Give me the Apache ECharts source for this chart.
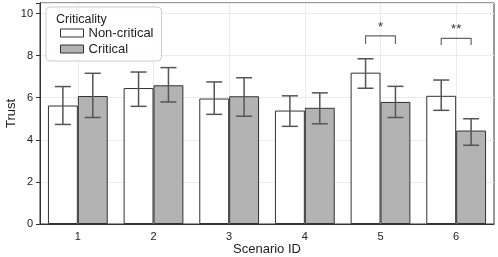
<!DOCTYPE html>
<html><head><meta charset="utf-8">
<script src="https://cdn.jsdelivr.net/npm/echarts@6/dist/echarts.min.js"></script>
<style>html,body{margin:0;padding:0;background:#fff}#c{width:498px;height:257px}</style>
</head><body><div id="c"></div>
<script>
var categories = ['1', '2', '3', '4', '5', '6'];
var nonCritical = [5.63, 6.46, 5.96, 5.39, 7.19, 6.09];
var ncLow = [4.73, 5.59, 5.21, 4.64, 6.45, 5.40];
var ncHigh = [6.53, 7.22, 6.75, 6.09, 7.85, 6.84];
var critical = [6.08, 6.59, 6.07, 5.52, 5.80, 4.44];
var cLow = [5.06, 5.80, 5.12, 4.76, 5.06, 3.74];
var cHigh = [7.16, 7.43, 6.95, 6.23, 6.54, 5.00];
var sigScenario = [4, 5];
var sigTop = [8.94, 8.82];
var sigBottom = [8.55, 8.50];
var sigLabel = ['*', '**'];
var yTicks = [0, 2, 4, 6, 8, 10];

var BARFRAC = 0.395;
var FONT = 'Liberation Sans, Arial, sans-serif';

function errData(low, high) {
  return categories.map(function (c, i) { return [i, low[i], high[i]]; });
}
function errRender(sign) {
  return function (params, api) {
    var i = api.value(0);
    var band = api.size([1, 0])[0];
    var x = api.coord([i, 0])[0] + sign * band * BARFRAC / 2;
    var lo = api.coord([i, api.value(1)])[1];
    var hi = api.coord([i, api.value(2)])[1];
    var cap = 8;
    var st = { stroke: '#555', lineWidth: 1.5 };
    return { type: 'group', children: [
      { type: 'line', shape: { x1: x, y1: lo, x2: x, y2: hi }, style: st },
      { type: 'line', shape: { x1: x - cap, y1: lo, x2: x + cap, y2: lo }, style: st },
      { type: 'line', shape: { x1: x - cap, y1: hi, x2: x + cap, y2: hi }, style: st }
    ]};
  };
}

var chart = echarts.init(document.getElementById('c'), null, { renderer: 'canvas' });
chart.setOption({
  animation: false,
  textStyle: { fontFamily: FONT },
  title: {
    text: 'Criticality', left: 51, top: 8, z: 10,
    textStyle: { fontFamily: FONT, fontSize: 12.5, fontWeight: 'normal', color: '#222' }
  },
  legend: {
    data: ['Non-critical', 'Critical'],
    orient: 'vertical', left: 46, top: 7,
    padding: [18, 8, 4, 14],
    itemWidth: 23, itemHeight: 8, itemGap: 0,
    backgroundColor: 'rgba(255,255,255,0.85)',
    borderColor: '#cccccc', borderWidth: 1, borderRadius: 4,
    itemStyle: { borderWidth: 1, borderColor: '#333' },
    textStyle: { fontFamily: FONT, fontSize: 13, color: '#222', lineHeight: 16 },
    icon: 'rect', selectedMode: false
  },
  grid: { left: 40, right: 4, top: 3, bottom: 33, show: true, borderColor: '#333', borderWidth: 1,
    backgroundColor: 'transparent', containLabel: false, outerBoundsMode: 'none' },
  xAxis: {
    type: 'category', data: categories,
    name: 'Scenario ID', nameLocation: 'middle', nameGap: 19, nameMoveOverlap: false,
    nameTextStyle: { fontFamily: FONT, fontSize: 13, color: '#222' },
    axisLine: { lineStyle: { color: '#333' } },
    axisTick: { alignWithLabel: true, length: 4, lineStyle: { color: '#333' } },
    axisLabel: { fontFamily: FONT, fontSize: 11, color: '#222', margin: 7 },
    splitLine: { show: true, alignWithLabel: true, lineStyle: { color: '#ebebeb', width: 1 } }
  },
  yAxis: {
    type: 'value', min: 0, max: 10.5, interval: 2,
    name: 'Trust', nameLocation: 'middle', nameGap: 22, nameMoveOverlap: false,
    nameTextStyle: { fontFamily: FONT, fontSize: 13, color: '#222' },
    axisLine: { show: true, lineStyle: { color: '#333' } },
    axisTick: { show: true, length: 4, lineStyle: { color: '#333' } },
    axisLabel: { fontFamily: FONT, fontSize: 11, color: '#222', margin: 7,
      formatter: function (v) { return yTicks.indexOf(v) >= 0 ? String(v) : ''; } },
    splitLine: { show: true, lineStyle: { color: '#ebebeb', width: 1 } }
  },
  series: [
    { name: 'Non-critical', type: 'bar', data: nonCritical, barWidth: (BARFRAC * 100) + '%', barGap: '0%',
      itemStyle: { color: '#ffffff', borderColor: '#333', borderWidth: 1 } },
    { name: 'Critical', type: 'bar', data: critical, barWidth: (BARFRAC * 100) + '%', barGap: '0%',
      itemStyle: { color: '#b3b3b3', borderColor: '#333', borderWidth: 1 } },
    { type: 'custom', data: errData(ncLow, ncHigh), renderItem: errRender(-1), encode: { x: 0, y: [1, 2] }, z: 5 },
    { type: 'custom', data: errData(cLow, cHigh), renderItem: errRender(1), encode: { x: 0, y: [1, 2] }, z: 5 },
    { type: 'custom',
      data: sigScenario.map(function (s, k) { return [s, sigTop[k], sigBottom[k], k]; }),
      encode: { x: 0, y: [1, 2] }, z: 6,
      renderItem: function (params, api) {
        var i = api.value(0);
        var band = api.size([1, 0])[0];
        var xc = api.coord([i, 0])[0];
        var x1 = xc - band * BARFRAC / 2, x2 = xc + band * BARFRAC / 2;
        var yt = api.coord([i, api.value(1)])[1];
        var yb = api.coord([i, api.value(2)])[1];
        var st = { stroke: '#666', lineWidth: 1.2, fill: null };
        return { type: 'group', children: [
          { type: 'polyline', shape: { points: [[x1, yb], [x1, yt], [x2, yt], [x2, yb]] }, style: st },
          { type: 'text', x: xc, y: yt - 2, style: { text: sigLabel[api.value(3)], fill: '#333',
            font: '13px ' + FONT, align: 'center', verticalAlign: 'bottom' } }
        ]};
      }
    }
  ]
});
</script></body></html>
